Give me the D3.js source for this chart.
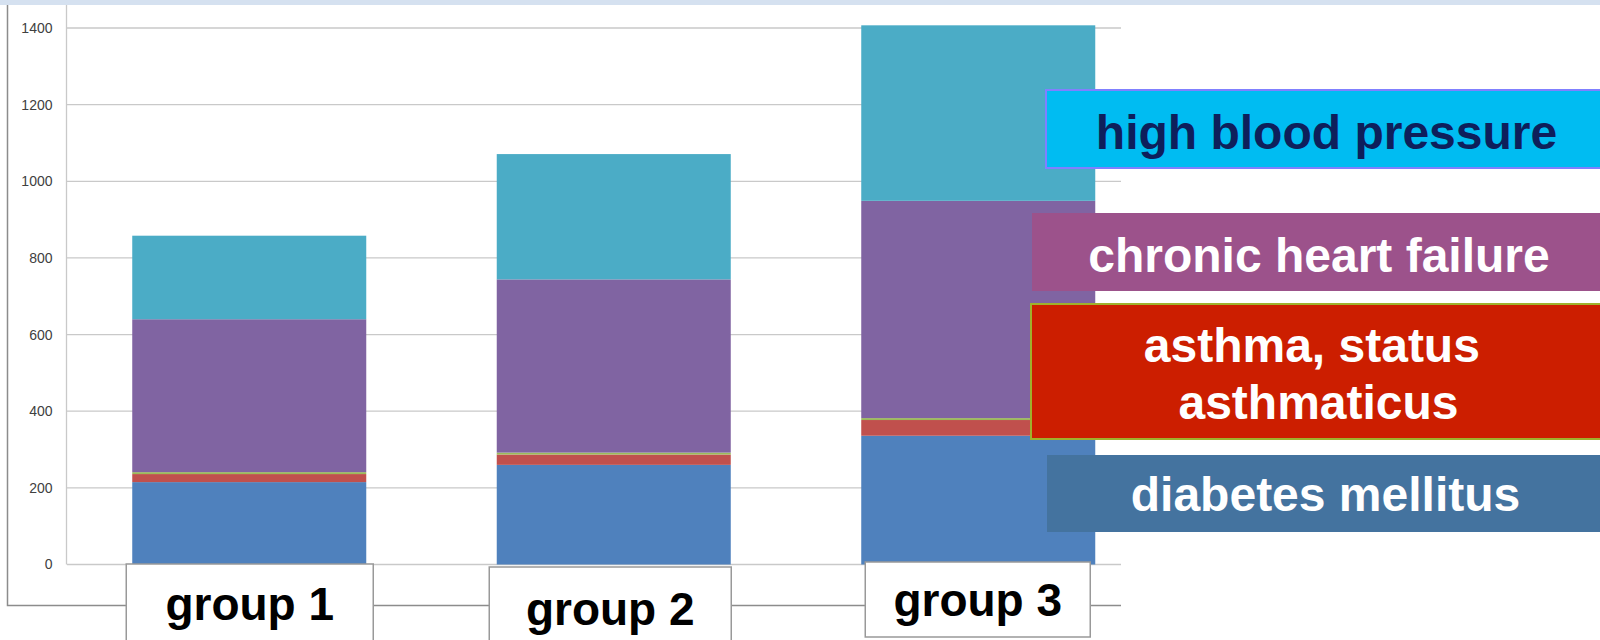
<!DOCTYPE html>
<html>
<head>
<meta charset="utf-8">
<script src="https://cdn.jsdelivr.net/npm/d3@7"></script>
<style>
  html, body { margin: 0; padding: 0; background: #fff; }
  svg { display: block; }
</style>
</head>
<body>
<svg id="chart" width="1600" height="640"></svg>
<script>
// Groups along the x axis
const groups = ["group 1", "group 2", "group 3"];

// Stacked series, bottom to top
const diabetes = [215, 260, 336];
const asthma = [21, 27, 41];
const statusAsthmaticus = [5, 5, 5];
const heartFailure = [399, 452, 567];
const hypertension = [218, 327, 458];

// Y axis ticks
const yTicks = [0, 200, 400, 600, 800, 1000, 1200, 1400];

// Legend labels (lines per box)
const legendHbp = ["high blood pressure"];
const legendChf = ["chronic heart failure"];
const legendAsthma = ["asthma, status\u00a0", "asthmaticus"];
const legendDiabetes = ["diabetes mellitus"];

const seriesKeys = ["diabetes", "asthma", "status", "chf", "hbp"];
const seriesValues = { diabetes, asthma, status: statusAsthmaticus, chf: heartFailure, hbp: hypertension };
const seriesColors = {
  diabetes: "#4f81bd",
  asthma: "#c0504d",
  status: "#9bbb59",
  chf: "#8064a2",
  hbp: "#4bacc6"
};

const rows = groups.map((g, i) => {
  const r = { group: g };
  seriesKeys.forEach(k => r[k] = seriesValues[k][i]);
  return r;
});

const svg = d3.select("#chart");

// top banner strip
svg.append("rect").attr("x", 0).attr("y", 0).attr("width", 1600).attr("height", 5)
  .attr("fill", "#d5e1f0");

const x = d3.scaleBand().domain(groups).range([67, 1160.5])
  .paddingInner(0.358).paddingOuter(0.179);
const y = d3.scaleLinear().domain([0, 1400]).range([564.5, 28]);

// outer chart frame (left and bottom)
svg.append("path")
  .attr("d", "M7.5,5 V605.5 H1121")
  .attr("fill", "none").attr("stroke", "#8c8c8c").attr("stroke-width", 1.5);

// gridlines
svg.append("g").selectAll("line").data(yTicks).join("line")
  .attr("x1", 67).attr("x2", 1121)
  .attr("y1", d => y(d)).attr("y2", d => y(d))
  .attr("stroke", "#c9c9c9").attr("stroke-width", 1.3);

// y axis line
svg.append("line").attr("x1", 66.5).attr("x2", 66.5).attr("y1", 5).attr("y2", y(0))
  .attr("stroke", "#c9c9c9").attr("stroke-width", 1.3);

// y axis labels
const yAxis = d3.axisLeft(y).tickValues(yTicks).tickFormat(d3.format("d"))
  .tickSize(0).tickPadding(14);
const ya = svg.append("g").attr("transform", "translate(66.5,0)").call(yAxis);
ya.select(".domain").remove();
ya.selectAll("text")
  .attr("font-family", "'Liberation Sans', Arial, sans-serif")
  .attr("font-size", 14)
  .attr("fill", "#404040");

// stacked bars
const stacked = d3.stack().keys(seriesKeys)(rows);
svg.append("g").selectAll("g").data(stacked).join("g")
  .attr("fill", s => seriesColors[s.key])
  .selectAll("rect").data(s => s).join("rect")
  .attr("x", d => x(d.data.group))
  .attr("width", x.bandwidth())
  .attr("y", d => y(d[1]))
  .attr("height", d => y(d[0]) - y(d[1]));

// group label boxes
const labelBoxes = [
  { dx: 0.5, w: 247, top: 564, bottom: 645, base: 620 },
  { dx: -3.5, w: 242, top: 567, bottom: 645, base: 624.5 },
  { dx: -0.5, w: 225, top: 562, bottom: 637, base: 616 }
];
const lbl = svg.append("g").selectAll("g").data(groups).join("g");
lbl.append("rect")
  .attr("x", (g, i) => x(g) + x.bandwidth() / 2 + labelBoxes[i].dx - labelBoxes[i].w / 2)
  .attr("y", (g, i) => labelBoxes[i].top)
  .attr("width", (g, i) => labelBoxes[i].w)
  .attr("height", (g, i) => labelBoxes[i].bottom - labelBoxes[i].top)
  .attr("fill", "#fff").attr("stroke", "#999").attr("stroke-width", 1.5);
lbl.append("text")
  .attr("x", (g, i) => x(g) + x.bandwidth() / 2 + labelBoxes[i].dx)
  .attr("y", (g, i) => labelBoxes[i].base)
  .attr("text-anchor", "middle")
  .attr("font-family", "'Liberation Sans', Arial, sans-serif")
  .attr("font-weight", "bold")
  .attr("font-size", 46)
  .attr("fill", "#000")
  .text(g => g);

// legend boxes
const legend = [
  { lines: legendHbp, x: 1046, y: 90, w: 560, h: 78, fill: "#00bcf2", stroke: "#8080ff", sw: 2, color: "#0e1f5b", base: [148.5], cx: 1326.5 },
  { lines: legendChf, x: 1032, y: 213, w: 574, h: 78, fill: "#9c528b", stroke: "none", sw: 0, color: "#fff", base: [272], cx: 1319 },
  { lines: legendAsthma, x: 1031, y: 304, w: 575, h: 135, fill: "#cc1e00", stroke: "#9fb12c", sw: 2, color: "#fff", base: [362, 418.5], cx: 1318.5 },
  { lines: legendDiabetes, x: 1047, y: 455, w: 559, h: 77, fill: "#44739f", stroke: "none", sw: 0, color: "#fff", base: [510.5], cx: 1325.5 }
];
const lg = svg.append("g").selectAll("g").data(legend).join("g");
lg.append("rect")
  .attr("x", d => d.x).attr("y", d => d.y)
  .attr("width", d => d.w).attr("height", d => d.h)
  .attr("fill", d => d.fill)
  .attr("stroke", d => d.stroke).attr("stroke-width", d => d.sw);
lg.each(function(d) {
  d3.select(this).selectAll("text").data(d.lines).join("text")
    .attr("x", d.cx)
    .attr("y", (t, i) => d.base[i])
    .attr("text-anchor", "middle")
    .attr("font-family", "'Liberation Sans', Arial, sans-serif")
    .attr("font-weight", "bold")
    .attr("font-size", 48)
    .attr("fill", d.color)
    .style("white-space", "pre")
    .text(t => t);
});
</script>
</body>
</html>
